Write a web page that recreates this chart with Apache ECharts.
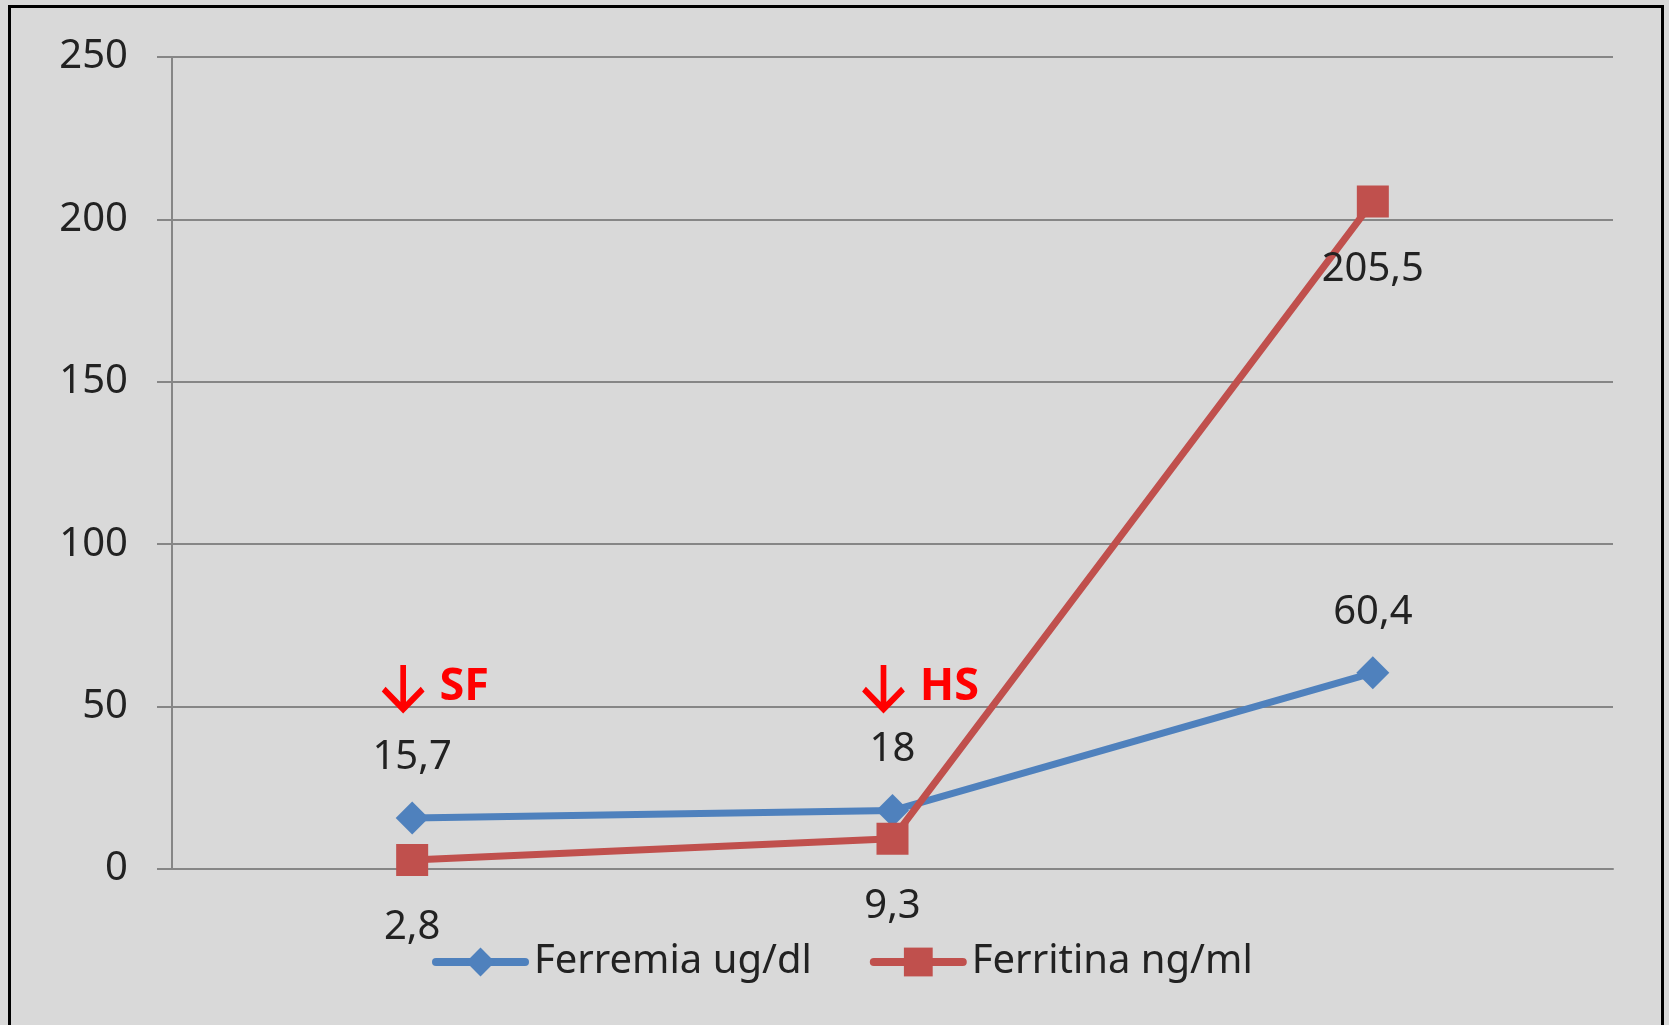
<!DOCTYPE html>
<html>
<head>
<meta charset="utf-8">
<script src="https://cdn.jsdelivr.net/npm/echarts@6/dist/echarts.min.js"></script>
<style>
html,body{margin:0;padding:0;background:#d9d9d9;}
#chart{width:1669px;height:1025px;}
</style>
</head>
<body>
<div id="chart"></div>
<script>
const categories = ['1', '2', '3'];
const ferremia = [15.7, 18, 60.4];
const ferritina = [2.8, 9.3, 205.5];
const seriesNames = ['Ferremia ug/dl', 'Ferritina ng/ml'];
const annotations = [
  { cat: '1', value: 56, text: 'SF' },
  { cat: '2', value: 56, text: 'HS' }
];
const yTicks = { min: 0, max: 250, interval: 50 };

const FONT = '"Noto Sans", "Open Sans", sans-serif';
const fmt = v => String(v).replace('.', ',');
const ARROW = 'path://M20,0 L20,44 M1,24 L20,44 L39,24';

const chart = echarts.init(document.getElementById('chart'), null, { renderer: 'canvas' });
chart.setOption({
  backgroundColor: '#d9d9d9',
  animation: false,
  textStyle: { fontFamily: FONT },
  graphic: [{
    type: 'rect',
    silent: true,
    shape: { x: 9.5, y: 6.5, width: 1653, height: 1100 },
    style: { fill: 'none', stroke: '#000', lineWidth: 3 }
  }],
  grid: { left: 172, right: 56, top: 57, bottom: 156, containLabel: false },
  legend: {
    left: 427,
    top: 937,
    itemWidth: 89,
    itemHeight: 36,
    itemGap: 58,
    data: seriesNames,
    lineStyle: { width: 8, cap: 'round' },
    textStyle: { fontFamily: FONT, fontSize: 40, color: '#222', padding: [0, 0, 0, 4] }
  },
  xAxis: {
    type: 'category',
    data: categories,
    boundaryGap: true,
    axisLine: { show: true, lineStyle: { color: '#868686', width: 2 } },
    axisTick: { show: false },
    axisLabel: { show: false },
    splitLine: { show: false }
  },
  yAxis: {
    type: 'value',
    min: yTicks.min,
    max: yTicks.max,
    interval: yTicks.interval,
    axisLine: { show: true, lineStyle: { color: '#868686', width: 2 } },
    axisTick: { show: true, length: 15, inside: false, lineStyle: { color: '#868686', width: 2 } },
    axisLabel: { fontFamily: FONT, fontSize: 40, color: '#222', margin: 44 },
    splitLine: { show: true, lineStyle: { color: '#868686', width: 2 } }
  },
  series: [
    {
      name: seriesNames[0],
      type: 'line',
      data: ferremia,
      symbol: 'diamond',
      symbolSize: 33,
      color: '#4f81bd',
      lineStyle: { color: '#4f81bd', width: 7 },
      itemStyle: { color: '#4f81bd' },
      label: {
        show: true, position: 'top', distance: 24,
        fontFamily: FONT, fontSize: 40, color: '#222',
        formatter: p => fmt(p.value)
      },
      markPoint: {
        symbol: ARROW,
        symbolSize: [39, 44],
        symbolOffset: [-9, 0],
        itemStyle: { color: 'rgba(0,0,0,0)', borderColor: '#ff0000', borderWidth: 6 },
        label: {
          show: true,
          position: 'right',
          distance: 14,
          formatter: p => p.name,
          fontFamily: FONT,
          fontSize: 45,
          fontWeight: 'bold',
          color: '#ff0000'
        },
        data: annotations.map(a => ({ name: a.text, coord: [a.cat, a.value] }))
      }
    },
    {
      name: seriesNames[1],
      type: 'line',
      data: ferritina,
      symbol: 'rect',
      symbolSize: 32,
      color: '#c0504d',
      lineStyle: { color: '#c0504d', width: 7 },
      itemStyle: { color: '#c0504d' },
      label: {
        show: true, position: 'bottom', distance: 32,
        fontFamily: FONT, fontSize: 40, color: '#222',
        formatter: p => fmt(p.value)
      }
    }
  ]
});
</script>
</body>
</html>
